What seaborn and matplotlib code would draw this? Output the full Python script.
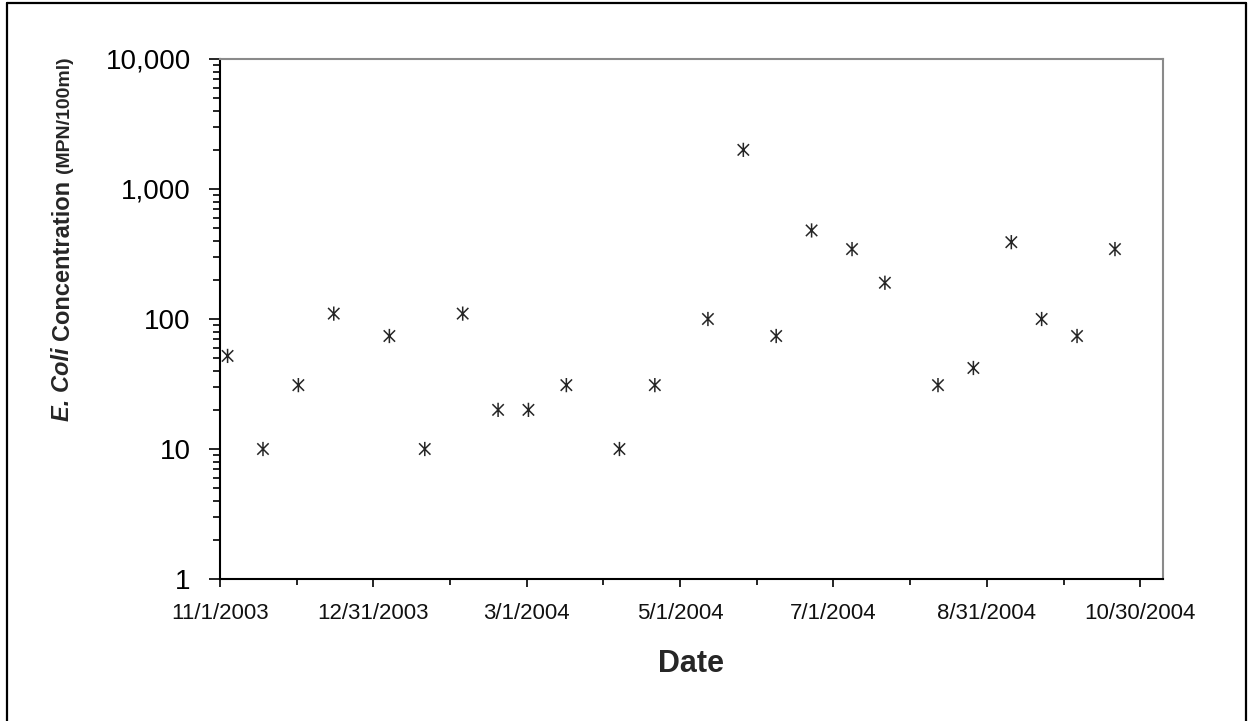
import numpy as np
import pandas as pd
import matplotlib
matplotlib.use("Agg")
import matplotlib.pyplot as plt
import matplotlib.dates as mdates
from matplotlib.ticker import FixedLocator, NullFormatter, LogLocator
from matplotlib.lines import Line2D
from matplotlib.path import Path
import seaborn as sns

# ---- data ----
dates = ["2003-11-04", "2003-11-18", "2003-12-02", "2003-12-16", "2004-01-07",
         "2004-01-21", "2004-02-05", "2004-02-19", "2004-03-02", "2004-03-17",
         "2004-04-07", "2004-04-21", "2004-05-12", "2004-05-26", "2004-06-08",
         "2004-06-22", "2004-07-08", "2004-07-21", "2004-08-11", "2004-08-25",
         "2004-09-09", "2004-09-21", "2004-10-05", "2004-10-20"]
ecoli = [52, 10, 31, 110, 74, 10, 110, 20, 20, 31, 10, 31, 100, 2000, 74,
         480, 345, 190, 31, 42, 390, 100, 74, 345]
x_tick_labels = ["11/1/2003", "12/31/2003", "3/1/2004", "5/1/2004",
                 "7/1/2004", "8/31/2004", "10/30/2004"]
y_ticks = [1, 10, 100, 1000, 10000]
y_tick_labels = ["1", "10", "100", "1,000", "10,000"]

sns.set_style("white")
plt.rcParams["font.family"] = ["Liberation Sans", "DejaVu Sans"]

# Excel-style star marker: X plus a vertical bar
star = Path([(0, -1), (0, 1), (-0.8, -0.8), (0.8, 0.8), (-0.8, 0.8), (0.8, -0.8)],
            [Path.MOVETO, Path.LINETO, Path.MOVETO, Path.LINETO, Path.MOVETO, Path.LINETO])

W, H = 1251, 721
fig = plt.figure(figsize=(W / 100, H / 100), dpi=100)
L, R, T, B = 220, 1163, 59, 579
ax = fig.add_axes([L / W, 1 - B / H, (R - L) / W, (B - T) / H])

df = pd.DataFrame({"Date": pd.to_datetime(dates), "EColi": ecoli})
sns.scatterplot(data=df, x="Date", y="EColi", marker=star, facecolor="none",
                edgecolor="#262626", s=105, linewidth=1.1, ax=ax, legend=False)

ax.set_yscale("log")
ax.set_ylim(1, 10000)
ax.yaxis.set_major_locator(FixedLocator(y_ticks))
ax.set_yticklabels(y_tick_labels)
ax.yaxis.set_minor_locator(LogLocator(base=10, subs=np.arange(2, 10)))
ax.yaxis.set_minor_formatter(NullFormatter())

start = mdates.date2num(pd.Timestamp("2003-11-01"))
end = mdates.date2num(pd.Timestamp("2004-10-30"))
ax.set_xlim(start, start + 373)
major = np.linspace(start, end, len(x_tick_labels))
ax.xaxis.set_major_locator(FixedLocator(major))
ax.set_xticklabels(x_tick_labels)
ax.xaxis.set_minor_locator(FixedLocator((major[:-1] + major[1:]) / 2))
ax.xaxis.set_minor_formatter(NullFormatter())

ax.set_xlabel("")
ax.set_ylabel("")
ax.grid(False)

ax.tick_params(axis="both", which="both", direction="out", color="black",
               width=1.2, bottom=True, left=True, top=False, right=False)
ax.tick_params(axis="y", which="major", length=8, pad=13, labelsize=20, labelcolor="black")
ax.tick_params(axis="y", which="minor", length=5)
ax.tick_params(axis="x", which="major", length=6, pad=11, labelsize=16, labelcolor="#111111")
ax.tick_params(axis="x", which="minor", length=4.5)

for s in ["left", "bottom"]:
    ax.spines[s].set_color("black")
    ax.spines[s].set_linewidth(1.5)
for s in ["top", "right"]:
    ax.spines[s].set_color("#8a8a8a")
    ax.spines[s].set_linewidth(1.5)

# x label
fig.text((L + R) / 2 / W, 1 - 664 / H, "Date", ha="center", va="center",
         fontsize=22, fontweight="bold")

# y label in pieces
fig.canvas.draw()
rend = fig.canvas.get_renderer()
xb = 69 / W
ycur = 421
pieces = [("E. Coli", dict(fontsize=17, fontweight="bold", fontstyle="italic"), 7),
          ("Concentration", dict(fontsize=17, fontweight="bold"), 7),
          ("(MPN/100ml)", dict(fontsize=14, fontweight="bold"), 0)]
for txt, kw, gap in pieces:
    t = fig.text(xb, 1 - ycur / H, txt, rotation=90, rotation_mode="anchor",
                 ha="left", va="baseline", **kw)
    bb = t.get_window_extent(rend)
    ycur = H - bb.y1 - gap

# figure border
for (x0, y0, x1, y1) in [(7, 3, 7, 725), (7, 3, 1246, 3), (1246, 3, 1246, 725)]:
    fig.add_artist(Line2D([x0 / W, x1 / W], [1 - y0 / H, 1 - y1 / H],
                          transform=fig.transFigure, color="black", lw=1.6))

fig.savefig("out.png", dpi=100)
